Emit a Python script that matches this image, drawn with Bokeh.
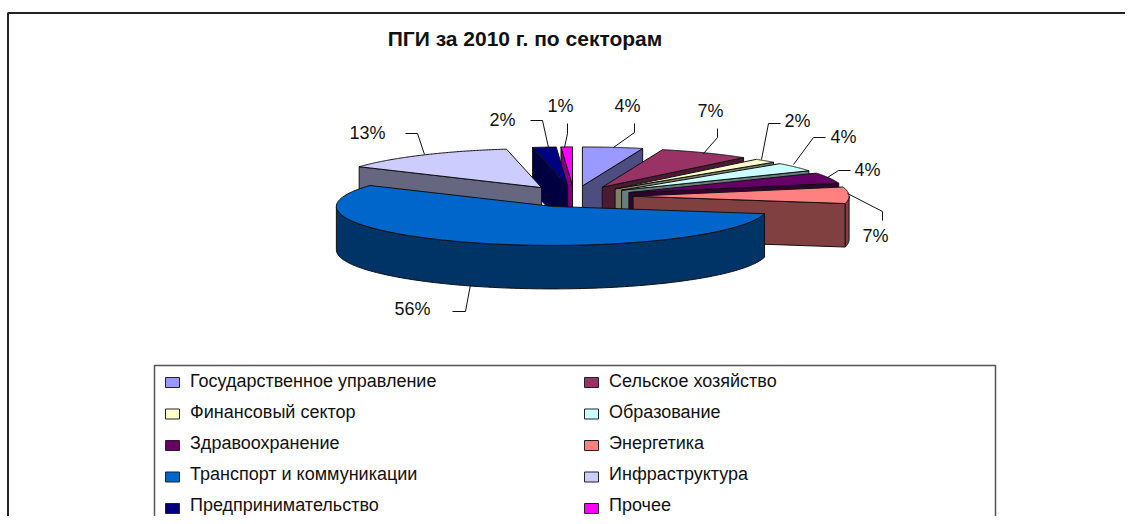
import numpy as np
from bokeh.core.properties import value
from bokeh.embed import file_html
from bokeh.models import Range1d
from bokeh.plotting import figure
from bokeh.resources import INLINE

TITLE = "ПГИ за 2010 г. по секторам"
sectors = ["Государственное управление", "Сельское хозяйство", "Финансовый сектор",
           "Образование", "Здравоохранение", "Энергетика", "Транспорт и коммуникации",
           "Инфраструктура", "Предпринимательство", "Прочее"]
shares = [4.5, 6.85, 1.75, 3.6, 4.5, 6.8, 56.0, 13.4, 1.75, 0.85]
pct_labels = ["4%", "7%", "2%", "4%", "4%", "7%", "56%", "13%", "2%", "1%"]

top_colors = ["#9999FF", "#993366", "#FFFFCC", "#CCFFFF", "#660066",
              "#FF8080", "#0066CC", "#CCCCFF", "#000080", "#FF00FF"]
side_colors = ["#4D4D80", "#4D1A33", "#808066", "#668080", "#330033",
               "#804040", "#003366", "#666680", "#000040", "#800080"]

# Layout, in the picture's pixels
W, H = 1125, 516
CX, CY, RX, RY = 573.6, 196.0, 216.0, 39.0
EXPLODE, DEPTH = 59.0, 43.5
draw_order = [9, 8, 7, 0, 1, 2, 3, 4, 5, 6]
label_xy = [(627, 105), (710, 110), (797, 120), (843, 136), (867, 169),
            (875, 235), (412, 308), (367, 132), (502, 119), (560, 105)]
leaders = [
    [(634, 123), (634, 132), (613, 147)],
    [(717, 128), (717, 137), (703, 153)],
    [(780, 123), (768, 123), (761, 159)],
    [(825, 137), (813, 137), (793, 164)],
    [(850, 170), (838, 170), (827, 177)],
    [(882, 220), (882, 211), (847, 193)],
    [(452, 311), (465, 311), (470, 284)],
    [(405, 133), (417, 133), (424, 154)],
    [(530, 120), (542, 120), (548, 147)],
    [(567, 123), (567, 133), (564, 147)],
]

p = figure(width=W, height=H, output_backend="svg", toolbar_location=None,
           x_range=Range1d(0, W), y_range=Range1d(H, 0), min_border=0,
           x_axis_location=None, y_axis_location=None, outline_line_color=None)
p.grid.visible = False

OUT = dict(line_color="#111111", line_width=1)


def rim(ax, ay, a):
    return ax + RX * np.sin(a), ay - RY * np.cos(a)


edges = np.radians(np.concatenate([[0], np.cumsum(shares)]) * 3.6)

for i in draw_order:
    a1, a2 = edges[i], edges[i + 1]
    mid = (a1 + a2) / 2
    ax = CX + EXPLODE * np.sin(mid)
    ay = CY - EXPLODE * np.cos(mid) * RY / RX
    # radial walls facing the viewer
    if np.sin(a1) < 0:
        x, y = rim(ax, ay, a1)
        p.patch([ax, x, x, ax], [ay, y, y + DEPTH, ay + DEPTH], fill_color=side_colors[i], **OUT)
    if np.sin(a2) > 0:
        x, y = rim(ax, ay, a2)
        p.patch([ax, x, x, ax], [ay, y, y + DEPTH, ay + DEPTH], fill_color=side_colors[i], **OUT)
    # outer rim wall on the front half
    lo, hi = max(a1, np.pi / 2), min(a2, 3 * np.pi / 2)
    if hi > lo:
        t = np.linspace(lo, hi, 120)
        x, y = rim(ax, ay, t)
        p.patch(np.r_[x, x[::-1]], np.r_[y, y[::-1] + DEPTH], fill_color=side_colors[i], **OUT)
    # top face
    t = np.linspace(a1, a2, 120)
    x, y = rim(ax, ay, t)
    p.patch(np.r_[ax, x], np.r_[ay, y], fill_color=top_colors[i], **OUT)

for pts in leaders:
    p.line([q[0] for q in pts], [q[1] for q in pts], line_color="#111111", line_width=1)

p.text([lx for lx, _ in label_xy], [ly for _, ly in label_xy], text=pct_labels,
       text_font=value("Liberation Sans"), text_font_size="18px", text_color="#111111",
       text_align="center", text_baseline="middle")

p.text([524.5], [38], text=[TITLE], text_font=value("Liberation Sans"), text_font_style="bold",
       text_font_size="21px", text_color="#111111", text_align="center", text_baseline="middle")

# outer chart frame (runs off the right and bottom of the picture)
p.line([7.5, 7.5, W], [H, 12.5, 12.5], line_color="#222222", line_width=2)

# legend
p.line([154, 154, 995, 995], [H, 365, 365, H], line_color="#555555", line_width=1.5)
for i, name in enumerate(sectors):
    col, row = i % 2, i // 2
    sx = 172 if col == 0 else 591
    p.rect([sx], [382 + 31.5 * row], width=14, height=10, fill_color=top_colors[i],
           line_color="#222222", line_width=1)
    p.text([sx + 17.5], [380 + 31 * row], text=[name], text_font=value("Liberation Sans"),
           text_font_size="18px", text_color="#111111", text_align="left", text_baseline="middle")

open("out.html", "w").write(file_html(p, INLINE))
